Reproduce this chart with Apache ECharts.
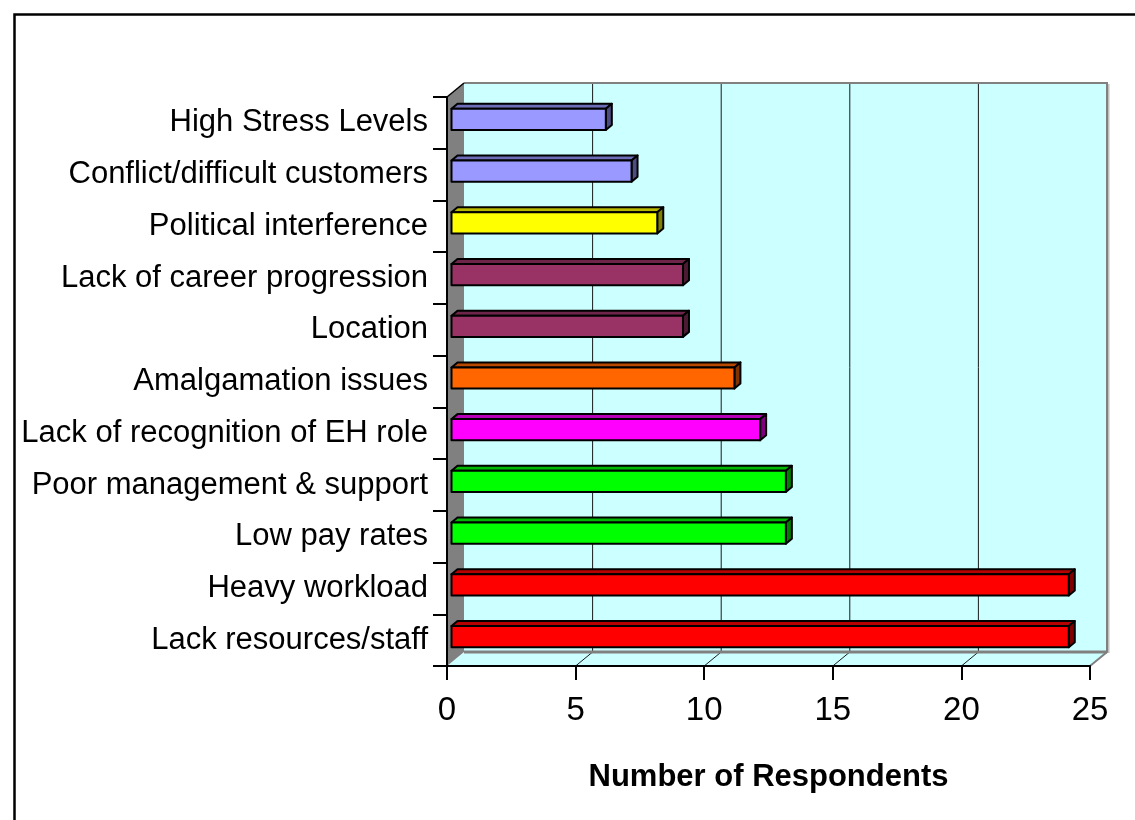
<!DOCTYPE html>
<html>
<head>
<meta charset="utf-8">
<title>Number of Respondents</title>
<script src="https://cdn.jsdelivr.net/npm/echarts@6/dist/echarts.min.js"></script>
<style>
  html, body { margin: 0; padding: 0; background: #ffffff; }
  #chart { width: 1135px; height: 820px; }
</style>
</head>
<body>
<div id="chart"></div>
<script>
// Categories listed bottom to top
const categories = [
  'Lack resources/staff',
  'Heavy workload',
  'Low pay rates',
  'Poor management & support',
  'Lack of recognition of EH role',
  'Amalgamation issues',
  'Location',
  'Lack of career progression',
  'Political interference',
  'Conflict/difficult customers',
  'High Stress Levels'
];
const respondents = [24, 24, 13, 13, 12, 11, 9, 9, 8, 7, 6];
const barColors = [
  '#FF0000', '#FF0000', '#00FF00', '#00FF00', '#FF00FF', '#FF6600',
  '#993366', '#993366', '#FFFF00', '#9999FF', '#9999FF'
];
const xTicks = [0, 5, 10, 15, 20, 25];
const axisTitle = 'Number of Respondents';

// 3D look: depth of the chart box and of the bars (pixels)
const WALL_DX = 17, WALL_DY = -14;
const BAR_OX = 4.5, BAR_OY = -3.5;
const BAR_DX = 6, BAR_DY = -5;
const BAR_FRACTION = 0.41;
const FONT = '"Liberation Sans", Arial, sans-serif';

function shade(hex, k) {
  const n = parseInt(hex.slice(1), 16);
  const r = Math.round(((n >> 16) & 255) * k);
  const g = Math.round(((n >> 8) & 255) * k);
  const b = Math.round((n & 255) * k);
  return 'rgb(' + r + ',' + g + ',' + b + ')';
}

// Walls, floor and gridlines of the 3D box
function renderBox(params, api) {
  const cs = params.coordSys;
  const x = cs.x, y = cs.y, w = cs.width, h = cs.height;
  const bx = x + WALL_DX, by = y + WALL_DY;
  const children = [];
  // back wall
  children.push({ type: 'rect', shape: { x: bx, y: by, width: w, height: h },
    style: { fill: '#CCFFFF', stroke: null } });
  // floor
  children.push({ type: 'polygon', shape: { points: [[x, y + h], [bx, by + h], [bx + w, by + h], [x + w, y + h]] },
    style: { fill: '#CCFFFF', stroke: null } });
  // gridlines on wall and floor
  xTicks.forEach(function (v) {
    if (v === xTicks[0] || v === xTicks[xTicks.length - 1]) return;
    const gx = api.coord([v, 0])[0];
    children.push({ type: 'polyline', shape: { points: [[gx + WALL_DX, by], [gx + WALL_DX, by + h], [gx, y + h]] },
      style: { stroke: '#1a1a1a', lineWidth: 1, fill: null } });
  });
  // wall borders
  children.push({ type: 'polyline', shape: { points: [[bx + w + 1.5, by + 1], [bx + w + 1.5, by + h + 1]] },
    style: { stroke: '#c0c0c0', lineWidth: 2, fill: null } });
  children.push({ type: 'polyline', shape: { points: [[bx, by], [bx + w, by], [bx + w, by + h], [x + w, y + h]] },
    style: { stroke: '#808080', lineWidth: 2, fill: null } });
  children.push({ type: 'polyline', shape: { points: [[bx, by + h], [bx + w, by + h]] },
    style: { stroke: '#808080', lineWidth: 3, fill: null } });
  // left wall
  children.push({ type: 'polygon', shape: { points: [[x, y], [bx, by], [bx, by + h], [x, y + h]] },
    style: { fill: '#808080', stroke: null } });
  children.push({ type: 'polyline', shape: { points: [[x, y], [bx, by]] },
    style: { stroke: '#000', lineWidth: 1.5, fill: null } });
  return { type: 'group', children: children };
}

// One 3D bar: front face, top face and right face
function renderBar(params, api) {
  const v = api.value(0), ci = api.value(1);
  const p0 = api.coord([0, ci]);
  const p1 = api.coord([v, ci]);
  const band = api.size([0, 1])[1];
  const bh = band * BAR_FRACTION;
  const x0 = p0[0] + BAR_OX, x1 = p1[0] + BAR_OX;
  const yc = p0[1] + BAR_OY;
  const yt = yc - bh / 2, yb = yc + bh / 2;
  const c = barColors[params.dataIndex];
  const edge = { stroke: '#000', lineWidth: 2, lineJoin: 'round' };
  return {
    type: 'group',
    children: [
      { type: 'polygon', shape: { points: [[x0, yt], [x0 + BAR_DX, yt + BAR_DY], [x1 + BAR_DX, yt + BAR_DY], [x1, yt]] },
        style: Object.assign({ fill: shade(c, 0.72) }, edge) },
      { type: 'polygon', shape: { points: [[x1, yt], [x1 + BAR_DX, yt + BAR_DY], [x1 + BAR_DX, yb + BAR_DY], [x1, yb]] },
        style: Object.assign({ fill: shade(c, 0.5) }, edge) },
      { type: 'rect', shape: { x: x0, y: yt, width: x1 - x0, height: bh },
        style: Object.assign({ fill: c }, edge) }
    ]
  };
}

const chart = echarts.init(document.getElementById('chart'), null, { renderer: 'canvas' });
chart.setOption({
  animation: false,
  backgroundColor: '#ffffff',
  graphic: [{
    type: 'rect', left: 12, top: 12, z: 10, silent: true,
    shape: { width: 1200, height: 900 },
    style: { fill: null, stroke: '#000', lineWidth: 2.5 }
  }],
  grid: { left: 447, top: 97, right: 45, bottom: 154 },
  xAxis: {
    type: 'value', min: 0, max: 25, interval: 5, z: 5,
    axisLine: { show: true, lineStyle: { color: '#000', width: 2 } },
    axisTick: { show: true, length: 14, lineStyle: { color: '#000', width: 2 } },
    splitLine: { show: false },
    axisLabel: { color: '#000', fontSize: 33, fontFamily: FONT, margin: 28 },
    name: axisTitle, nameLocation: 'middle', nameGap: 96,
    nameTextStyle: { color: '#000', fontSize: 31, fontWeight: 'bold', fontFamily: FONT }
  },
  yAxis: {
    type: 'category', data: categories, z: 5,
    axisLine: { show: true, lineStyle: { color: '#000', width: 2 } },
    axisTick: { show: true, length: 14, alignWithLabel: false, lineStyle: { color: '#000', width: 2 } },
    splitLine: { show: false },
    axisLabel: { color: '#000', fontSize: 31, fontFamily: FONT, margin: 19, interval: 0 }
  },
  series: [
    {
      type: 'custom', name: 'box', renderItem: renderBox, clip: false, silent: true, z: 1,
      data: [[0, 0]], encode: { x: 0, y: 1 }
    },
    {
      type: 'custom', name: 'respondents', renderItem: renderBar, clip: false, z: 2,
      data: respondents.map(function (v, i) { return [v, i]; }), encode: { x: 0, y: 1 }
    }
  ]
});
</script>
</body>
</html>
